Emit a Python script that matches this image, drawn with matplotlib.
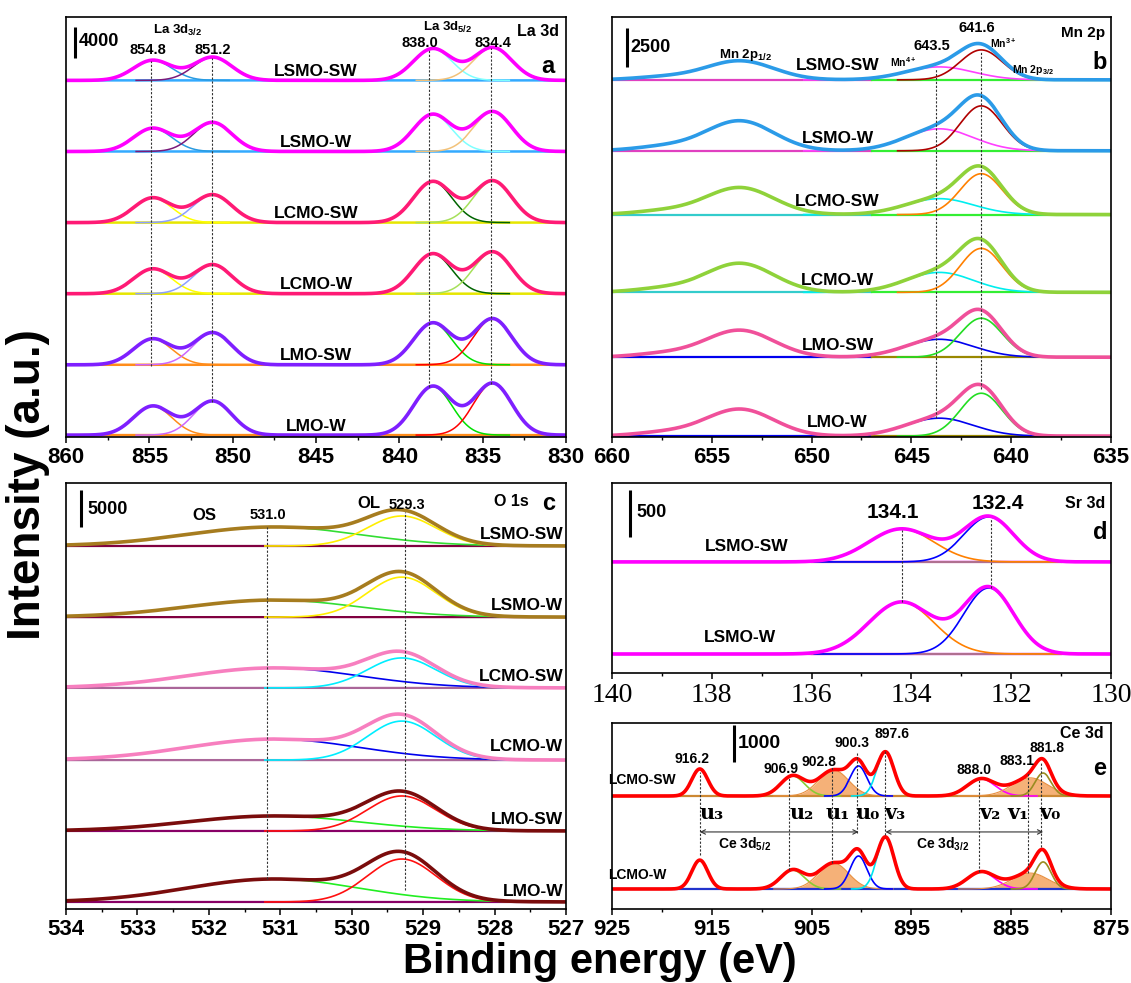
import numpy as np
import matplotlib.pyplot as plt
from matplotlib.ticker import MultipleLocator, FixedLocator

plt.rcParams['font.family'] = ['Liberation Sans', 'DejaVu Sans']
plt.rcParams['font.weight'] = 'bold'
plt.rcParams['mathtext.fontset'] = 'custom'
plt.rcParams['mathtext.rm'] = 'Liberation Sans:bold'
plt.rcParams['mathtext.it'] = 'Liberation Sans:bold'
plt.rcParams['mathtext.bf'] = 'Liberation Sans:bold'
plt.rcParams['mathtext.default'] = 'rm'

# ---------------- data ----------------
# La 3d: peaks [3d3/2 a, 3d3/2 b, 3d5/2 a, 3d5/2 b]
la_samples = ['LSMO-SW', 'LSMO-W', 'LCMO-SW', 'LCMO-W', 'LMO-SW', 'LMO-W']
la_centers = [854.8, 851.2, 838.0, 834.4]
la_sigma = [1.15, 1.15, 1.15, 1.15]
la_heights = [[2600, 3000, 4100, 4250],
              [3000, 3750, 4800, 5150],
              [3200, 3600, 5300, 5400],
              [3200, 3750, 5150, 5400],
              [3350, 4150, 5400, 5950],
              [3750, 4400, 6300, 6700]]
la_offsets = [46000, 36800, 27600, 18400, 9200, 100]

# Mn 2p: [2p1/2, 2p1/2 shoulder, Mn4+, Mn3+]
mn_samples = la_samples
mn_centers = [653.6, 657.4, 643.6, 641.5]
mn_sigma = [1.7, 1.5, 1.7, 1.05]
mn_heights = [[1220, 180, 830, 1920],
              [1920, 260, 1410, 2880],
              [1730, 230, 1020, 2620],
              [1860, 250, 1280, 2820],
              [1730, 230, 1150, 2500],
              [1730, 230, 1150, 2750]]
mn_offsets = [22850, 18300, 14210, 9220, 5060, 0]

# O 1s: [OS, OL]
o_samples = la_samples
o_centers = [531.1, 529.3]
o_sigma = [1.2, 0.48]
o_heights = [[2565, 4050],
             [2300, 5400],
             [2700, 4050],
             [2835, 5265],
             [2025, 4725],
             [3100, 5800]]
o_offsets = [49000, 39400, 29840, 20100, 10530, 945]

# Sr 3d: [134.1, 132.4]
sr_samples = ['LSMO-SW', 'LSMO-W']
sr_centers = [134.2, 132.45]
sr_sigma = [0.65, 0.5]
sr_heights = [[350, 477], [551, 700]]
sr_offsets = [1177, 201]

# Ce 3d: u3 u2 u1 u0 v3 v2 v1 v0
ce_samples = ['LCMO-SW', 'LCMO-W']
ce_names = ['u3', 'u2', 'u1', 'u0', 'v3', 'v2', 'v1', 'v0']
ce_centers = [916.2, 906.9, 902.8, 900.3, 897.6, 888.0, 883.1, 881.8]
ce_sigma = [0.8, 1.2, 1.5, 0.85, 0.85, 1.4, 1.8, 0.8]
ce_heights = [[730, 540, 700, 810, 1190, 460, 490, 620],
              [780, 510, 700, 890, 1400, 460, 430, 730]]
ce_offsets = [3051, 540]
ce_ticks = [925, 915, 905, 895, 885, 875]


def gauss(x, c, s, h):
    return h * np.exp(-(x - c) ** 2 / (2 * s ** 2))


fig = plt.figure(figsize=(11.31, 9.83), dpi=100)

ax_a = fig.add_axes([0.0584, 0.5554, 0.4421, 0.4273])
ax_b = fig.add_axes([0.5411, 0.5554, 0.4412, 0.4273])
ax_c = fig.add_axes([0.0584, 0.0753, 0.4421, 0.4334])
ax_d = fig.add_axes([0.5411, 0.3154, 0.4412, 0.1933])
ax_e = fig.add_axes([0.5411, 0.0753, 0.4412, 0.1892])


def style(ax, xlim, ylim, major, minor, serif=False):
    ax.set_xlim(*xlim)
    ax.set_ylim(*ylim)
    ax.set_yticks([])
    if isinstance(major, list):
        ax.xaxis.set_major_locator(FixedLocator(major))
    else:
        ax.xaxis.set_major_locator(MultipleLocator(major))
    ax.xaxis.set_minor_locator(MultipleLocator(minor))
    ax.tick_params(axis='x', which='major', length=4, width=1.1, labelsize=16, pad=3)
    ax.tick_params(axis='x', which='minor', length=2, width=1)
    for sp in ax.spines.values():
        sp.set_linewidth(1.2)
    for lab in ax.get_xticklabels():
        if serif:
            lab.set_family('Liberation Serif')
            lab.set_fontweight('normal')
            lab.set_fontsize(20)
        else:
            lab.set_fontweight('bold')


def txt(ax, x, y, s, size=10.5, **kw):
    kw.setdefault('ha', 'center')
    kw.setdefault('va', 'center')
    ax.text(x, y, s, fontsize=size, fontweight='bold', **kw)


def scalebar(ax, x, y0, y1):
    ax.plot([x, x], [y0, y1], color='black', lw=2.2, solid_capstyle='butt')


# ---------------- (a) La 3d ----------------
la_colors = {
    'LSMO': ('#ff00ff', ['#2a9be0', '#7a1a7a', '#7fffff', '#f2c27a'], '#33aaff'),
    'LCMO': ('#ff1a75', ['#ffff00', '#8ca0ff', '#006400', '#a6e05a'], '#e6e600'),
    'LMO': ('#7f1fff', ['#ff8c1a', '#cc66ff', '#00e000', '#ff0000'], '#ff8c1a'),
}
xa = np.linspace(830, 860, 1500)
for name, hs, off in zip(la_samples, la_heights, la_offsets):
    env_c, comp_c, base_c = la_colors[name.split('-')[0]]
    ax_a.plot(xa, np.full_like(xa, off), color=base_c, lw=1.8)
    env = np.zeros_like(xa)
    for c, s, h, col in zip(la_centers, la_sigma, hs, comp_c):
        g = gauss(xa, c, s, h)
        env += g
        m = np.abs(xa - c) < 4 * s
        ax_a.plot(xa[m], off + g[m], color=col, lw=1.1)
    ax_a.plot(xa, off + env, color=env_c, lw=2.6)
    txt(ax_a, 845.0, off + 1160, name, size=12.5)

la_vlines = [(854.9, 48500, 9000), (851.25, 48900, 4400),
             (838.2, 50050, 6300), (834.5, 50180, 6700)]
for x, y0, y1 in la_vlines:
    ax_a.plot([x, x], [y1, y0], color='#333333', lw=0.8, ls=(0, (2, 1.5)))
txt(ax_a, 855.1, 49900, '854.8')
txt(ax_a, 851.2, 49900, '851.2')
txt(ax_a, 838.8, 50800, '838.0')
txt(ax_a, 834.4, 50800, '834.4')
txt(ax_a, 853.3, 52500, 'La 3d$_{3/2}$', size=9.5)
txt(ax_a, 837.1, 52900, 'La 3d$_{5/2}$', size=9.5)
txt(ax_a, 831.7, 52300, 'La 3d', size=11.5)
txt(ax_a, 831.1, 47750, 'a', size=17)
txt(ax_a, 858.0, 51000, '4000', size=13)
scalebar(ax_a, 859.45, 48900, 52900)
style(ax_a, (860, 830), (-150, 54200), 5, 2.5)

# ---------------- (b) Mn 2p ----------------
mn_colors = {
    'LSMO': ('#2b9be8', ['#ff40ff', '#b00000'], '#e040c0', '#33ee33'),
    'LCMO': ('#8fd23a', ['#00eeee', '#ff8000'], '#33cccc', '#33ee33'),
    'LMO': ('#f0509a', ['#0000ee', '#22dd22'], '#0000ee', '#998800'),
}
xb = np.linspace(635, 660, 1500)
for name, hs, off in zip(mn_samples, mn_heights, mn_offsets):
    env_c, comp_c, bl_left, bl_right = mn_colors[name.split('-')[0]]
    left = xb > 647
    ax_b.plot(xb[left], np.full(left.sum(), off), color=bl_left, lw=1.6)
    ax_b.plot(xb[~left], np.full((~left).sum(), off), color=bl_right, lw=1.6)
    env = np.zeros_like(xb)
    for k, (c, s, h) in enumerate(zip(mn_centers, mn_sigma, hs)):
        g = gauss(xb, c, s, h)
        env += g
        if k >= 2:
            m = np.abs(xb - c) < 4 * s
            ax_b.plot(xb[m], off + g[m], color=comp_c[k - 2], lw=1.2)
    ax_b.plot(xb, off + env, color=env_c, lw=2.6)

mn_label_y = [23740, 19070, 15040, 9980, 5820, 900]
for name, y in zip(mn_samples, mn_label_y):
    txt(ax_b, 648.7, y, name, size=12.5)

for x, y0, y1 in [(643.75, 23620, 1150), (641.5, 24640, 3000)]:
    ax_b.plot([x, x], [y1, y0], color='#333333', lw=0.8, ls=(0, (2, 1.5)))
txt(ax_b, 658.05, 24900, '2500', size=13)
scalebar(ax_b, 659.25, 23680, 26180)
txt(ax_b, 653.3, 24450, 'Mn 2p$_{1/2}$', size=9.5)
txt(ax_b, 645.4, 24000, 'Mn$^{4+}$', size=7.5)
txt(ax_b, 643.97, 25020, '643.5', size=10.5)
txt(ax_b, 641.7, 26180, '641.6', size=10.5)
txt(ax_b, 640.4, 25200, 'Mn$^{3+}$', size=7.5)
txt(ax_b, 638.9, 23490, 'Mn 2p$_{3/2}$', size=7.5)
txt(ax_b, 636.4, 25860, 'Mn 2p', size=11)
txt(ax_b, 635.55, 23940, 'b', size=17)
style(ax_b, (660, 635), (-60, 26880), 5, 2.5)

# ---------------- (c) O 1s ----------------
o_colors = {
    'LSMO': ('#a67c1f', ['#33dd33', '#ffee00'], '#800040'),
    'LCMO': ('#f77fbf', ['#0000ee', '#00eeff'], '#aa6699'),
    'LMO': ('#7a0c0c', ['#22ee22', '#ff1010'], '#880066'),
}
xc = np.linspace(527, 534, 1500)
o_label_y = [50490, 40900, 31320, 21870, 12015, 2295]
for name, hs, off, ly in zip(o_samples, o_heights, o_offsets, o_label_y):
    env_c, comp_c, base_c = o_colors[name.split('-')[0]]
    ax_c.plot(xc, np.full_like(xc, off), color=base_c, lw=1.6)
    env = np.zeros_like(xc)
    for c, s, h, col in zip(o_centers, o_sigma, hs, comp_c):
        g = gauss(xc, c, s, h)
        env += g
        m = np.abs(xc - c) < 4 * s
        ax_c.plot(xc[m], off + g[m], color=col, lw=1.2)
    ax_c.plot(xc, off + env, color=env_c, lw=2.6)
    txt(ax_c, 527.04, ly, name, size=12.5, ha='right')

for x, y0, y1 in [(531.18, 51570, 4050), (529.26, 53595, 2565)]:
    ax_c.plot([x, x], [y1, y0], color='#333333', lw=0.8, ls=(0, (2, 1.5)))
txt(ax_c, 533.42, 53865, '5000', size=13)
scalebar(ax_c, 533.79, 51570, 56570)
txt(ax_c, 532.06, 53055, 'OS', size=12)
txt(ax_c, 531.18, 53190, '531.0', size=10.5)
txt(ax_c, 529.76, 54675, 'OL', size=12)
txt(ax_c, 529.23, 54540, '529.3', size=10.5)
txt(ax_c, 527.77, 54945, 'O 1s', size=11.5)
txt(ax_c, 527.24, 54800, 'c', size=17)
style(ax_c, (534, 527), (0, 57510), 1, 0.5)

# ---------------- (d) Sr 3d ----------------
xd = np.linspace(130, 140, 1200)
sr_label_pos = [(137.3, 1336), (137.43, 371)]
for name, hs, off, (lx, ly) in zip(sr_samples, sr_heights, sr_offsets, sr_label_pos):
    ax_d.plot(xd, np.full_like(xd, off), color='#ff00ff', lw=1.6)
    m0 = (xd > 131) & (xd < 136)
    ax_d.plot(xd[m0], np.full(m0.sum(), off), color='#b07090', lw=1.6)
    env = np.zeros_like(xd)
    for c, s, h, col in zip(sr_centers, sr_sigma, hs, ['#ff8000', '#0000ff']):
        g = gauss(xd, c, s, h)
        env += g
        m = np.abs(xd - c) < 3.5
        ax_d.plot(xd[m], off + g[m], color=col, lw=1.2)
    ax_d.plot(xd, off + env, color='#ff00ff', lw=2.6)
    txt(ax_d, lx, ly, name, size=12.5)

for x, y0, y1 in [(134.19, 1516, 753), (132.4, 1643, 901)]:
    ax_d.plot([x, x], [y1, y0], color='#333333', lw=0.8, ls=(0, (2, 1.5)))
txt(ax_d, 139.2, 1696, '500', size=13)
scalebar(ax_d, 139.64, 1442, 1940)
txt(ax_d, 134.37, 1696, '134.1', size=15)
txt(ax_d, 132.26, 1791, '132.4', size=15)
txt(ax_d, 130.52, 1800, 'Sr 3d', size=11.5)
txt(ax_d, 130.22, 1484, 'd', size=17)
style(ax_d, (140, 130), (0, 2014), 2, 1, serif=True)

# ---------------- (e) Ce 3d ----------------
ce_colors = ['#ff0000', '#88cc33', '#f4a460', '#0000ff',
             '#00e5ee', '#ff00ff', '#f4a460', '#9a8c20']
ce_filled = ['u1', 'v1']
ce_base = ['#cc8833', '#2233cc']
xe = np.linspace(875, 925, 2000)
ce_label_pos = [(925.4, 3480), (925.4, 918)]
for name, hs, off, bc, (lx, ly) in zip(ce_samples, ce_heights, ce_offsets,
                                       ce_base, ce_label_pos):
    ax_e.plot(xe, np.full_like(xe, off), color=bc, lw=1.6)
    env = np.zeros_like(xe)
    for nm, c, s, h, col in zip(ce_names, ce_centers, ce_sigma, hs, ce_colors):
        g = gauss(xe, c, s, h)
        env += g
        m = np.abs(xe - c) < 4 * s
        if nm in ce_filled:
            ax_e.fill_between(xe[m], off, off + g[m], color=col, alpha=0.85, lw=0)
            ax_e.plot(xe[m], off + g[m], color='#e89040', lw=0.8)
        elif nm != 'u3':
            ax_e.plot(xe[m], off + g[m], color=col, lw=1.2)
    ax_e.plot(xe, off + env, color='#ff0000', lw=2.6)
    txt(ax_e, lx, ly, name, size=10, ha='left')

ce_vlines = [(916.2, 3700, 1460), (907.26, 3540, 1050), (902.96, 3830, 1240),
             (900.45, 4240, 2050), (897.6, 4290, 2000), (888.2, 3480, 1000),
             (883.3, 3700, 970), (882.0, 3970, 1670)]
for x, y0, y1 in ce_vlines:
    ax_e.plot([x, x], [y1, y0], color='#333333', lw=0.8, ls=(0, (2, 1.5)))

ce_peak_labels = [(916.98, 4050, '916.2'), (908.07, 3780, '906.9'),
                  (904.26, 3970, '902.8'), (900.95, 4480, '900.3'),
                  (896.94, 4725, '897.6'), (888.73, 3750, '888.0'),
                  (884.42, 4000, '883.1'), (881.41, 4350, '881.8')]
for x, y, s in ce_peak_labels:
    txt(ax_e, x, y, s, size=10)

uv_labels = [(914.98, 'u\u2083'), (905.96, 'u\u2082'), (902.35, 'u\u2081'),
             (899.35, 'u\u2080'), (896.64, 'v\u2083'), (887.12, 'v\u2082'),
             (884.32, 'v\u2081'), (881.11, 'v\u2080')]
for x, s in uv_labels:
    ax_e.text(x, 2590, s, fontsize=15, family='DejaVu Serif', ha='center', va='center')

arrow = dict(arrowstyle='<->', lw=0.8, color='#333333', mutation_scale=8, shrinkA=0, shrinkB=0)
ax_e.annotate('', xy=(900.3, 2080), xytext=(916.2, 2080), arrowprops=arrow)
ax_e.annotate('', xy=(881.8, 2080), xytext=(897.6, 2080), arrowprops=arrow)
txt(ax_e, 911.67, 1755, 'Ce 3d$_{5/2}$', size=10)
txt(ax_e, 891.83, 1755, 'Ce 3d$_{3/2}$', size=10)
txt(ax_e, 910.27, 4480, '1000', size=14)
scalebar(ax_e, 912.78, 3970, 4968)
txt(ax_e, 877.9, 4750, 'Ce 3d', size=11.5)
txt(ax_e, 876.1, 3800, 'e', size=17)
style(ax_e, (925, 875), (0, 5022), ce_ticks, 5)

fig.text(0.025, 0.507, 'Intensity (a.u.)', rotation=90, ha='center', va='center',
         fontsize=33, fontweight='bold')
fig.text(0.53, 0.021, 'Binding energy (eV)', ha='center', va='center',
         fontsize=30, fontweight='bold')

fig.savefig('out.png', dpi=100)
